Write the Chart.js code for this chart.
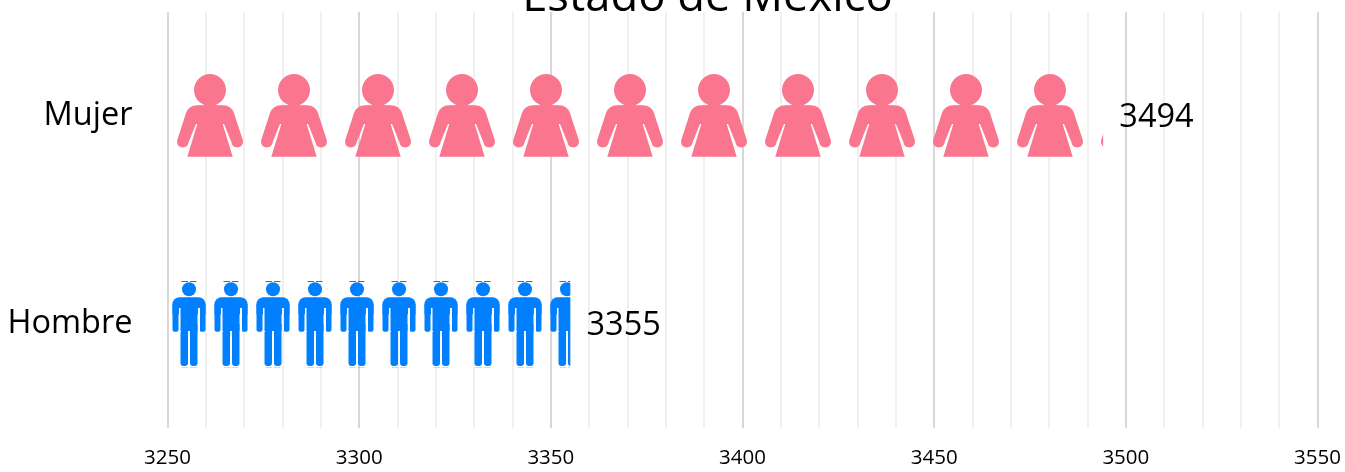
<!DOCTYPE html>
<html><head><meta charset="utf-8">
<style>html,body{margin:0;padding:0;background:#fff}canvas{display:block}</style>
<script src="https://cdn.jsdelivr.net/npm/chart.js@4/dist/chart.umd.min.js"></script>
</head><body>
<canvas id="c" width="1345" height="472"></canvas>
<script>
const categories = ["Mujer", "Hombre"];
const values = [3494, 3355];
const colors = ["#FA758E", "#0080FF"];
const titleText = "Estado de México";
const axisMin = 3250, axisMax = 3550, minorStep = 10, majorStep = 50;
const FONT = '"Open Sans"';

function womanTile(color){
  const w=84,h=86,c=document.createElement('canvas');c.width=w;c.height=h;
  const g=c.getContext('2d');g.fillStyle=color;const cx=w/2,cy=h/2;
  g.translate(cx,cy);
  g.beginPath();g.arc(0,-26,16,0,7);g.fill();
  for(const s of [-1,1]){
    g.beginPath();
    g.moveTo(0,-11);
    g.lineTo(s*13,-10.7);
    g.quadraticCurveTo(s*21,-10.7,s*24,-3);
    g.lineTo(s*32.6,23.5);
    g.arc(s*27.2,25.7,5.8,s>0?-0.4:Math.PI+0.4,s>0?Math.PI-0.1:0.1,s<0);
    g.lineTo(s*14,8);
    g.lineTo(s*12.7,8);
    g.lineTo(s*22.7,40.7);
    g.lineTo(0,40.7);
    g.closePath();g.fill();
  }
  return c;
}
function manTile(color){
  const w=42,h=86,c=document.createElement('canvas');c.width=w;c.height=h;
  const g=c.getContext('2d');g.fillStyle=color;const cx=w/2,cy=h/2;
  g.translate(cx,cy);
  g.fillRect(-7.5,-43,6.5,1);g.fillRect(1,-43,6.5,1);
  g.beginPath();g.arc(0,-34.7,7,0,7);g.fill();
  g.beginPath();g.roundRect(-16.5,-26.7,33,17,[7,7,0,0]);g.fill();
  for(const s of [-1,1]){
    g.beginPath();g.roundRect(s>0?10.5:-16.5,-20,6,27.7,[0,0,2,2]);g.fill();
    g.beginPath();g.roundRect(s>0?1:-8.5,0,7.5,42,[0,0,3,3]);g.fill();
  }
  g.clearRect(-10.5,-16.5,2,24.2);g.clearRect(8.5,-16.5,2,24.2);
  g.fillRect(-8.5,-20,17,27);
  return c;
}
const tiles=[womanTile(colors[0]),manTile(colors[1])];

function barPattern(ctx){
  if(ctx.type!=='data') return colors[ctx.dataIndex||0];
  const chart=ctx.chart,i=ctx.dataIndex,t=tiles[i];
  const x0=Math.round(chart.scales.x.getPixelForValue(axisMin));
  const yc=Math.round(chart.scales.y.getPixelForValue(i));
  const p=chart.ctx.createPattern(t,'repeat');
  p.setTransform(new DOMMatrix().translate(x0,yc-t.height/2));
  return p;
}

const valueLabels={id:'valueLabels',afterDatasetsDraw(chart){
  const g=chart.ctx,m=chart.getDatasetMeta(0);
  g.save();g.font='32.5px '+FONT;g.fillStyle='#000';g.textAlign='left';g.textBaseline='middle';
  m.data.forEach((el,i)=>g.fillText(String(values[i]),el.x+16.5,el.y+2));
  g.restore();
}};
const titlePlace={id:'titlePlace',afterLayout(chart){
  const t=chart.titleBlock;t.left=97.5;t.top=-8;t.bottom=4;
}};

new Chart(document.getElementById('c'),{
  type:'bar',
  data:{labels:categories,datasets:[{data:values,backgroundColor:barPattern,barThickness:86,borderWidth:0}]},
  plugins:[valueLabels,titlePlace],
  options:{
    responsive:false,animation:false,indexAxis:'y',
    layout:{padding:{left:0,right:27.5,top:0,bottom:0}},
    plugins:{legend:{display:false},tooltip:{enabled:false},
      title:{display:true,text:titleText,color:'#000',font:{family:FONT,size:45.4,weight:'400',lineHeight:0.2643},padding:0}},
    scales:{
      x:{type:'linear',min:axisMin,max:axisMax,
        border:{display:false},
        grid:{drawTicks:false,lineWidth:2,color:c=>c.tick&&c.tick.value%majorStep===0?'#d8d8d8':'#f0f0f0'},
        ticks:{stepSize:minorStep,autoSkip:false,maxRotation:0,padding:18,color:'#000',font:{family:FONT,size:20.5},
          callback:v=>v%majorStep===0?String(v):''},
        afterFit(s){s.height=44;s.paddingRight=0;s.paddingLeft=0;}},
      y:{type:'category',border:{display:false},grid:{display:false,drawTicks:false},
        ticks:{padding:35,color:'#000',font:{family:FONT,size:32.5}},
        afterFit(s){s.width=167.5;s.paddingTop=0;s.paddingBottom=0;}}
    }
  }
});
</script>
</body></html>
